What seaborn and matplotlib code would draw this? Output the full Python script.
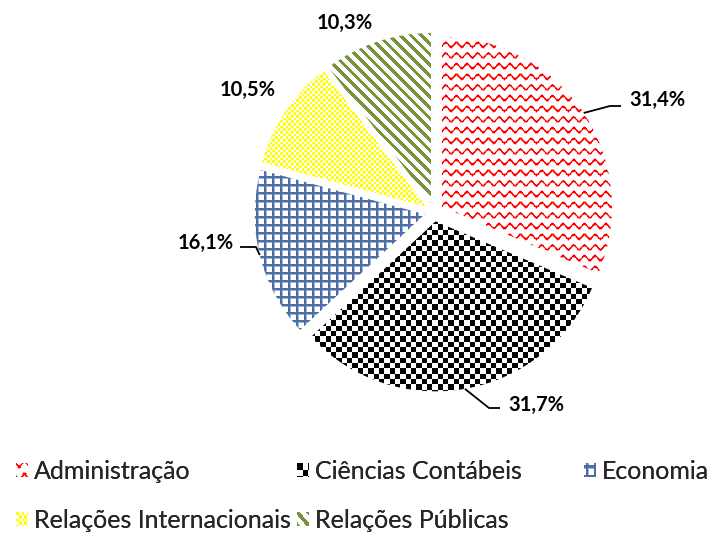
import numpy as np
import matplotlib
matplotlib.use("Agg")
import matplotlib.pyplot as plt
import seaborn as sns
from matplotlib.legend_handler import HandlerBase
from matplotlib.image import BboxImage
from matplotlib.transforms import Bbox, TransformedBbox
from matplotlib.patches import Patch

# ---- data ----
categories = ["Administração", "Ciências Contábeis", "Economia",
              "Relações Internacionais", "Relações Públicas"]
shares = [31.4, 31.7, 16.1, 10.5, 10.3]
value_labels = ["31,4%", "31,7%", "16,1%", "10,5%", "10,3%"]

sns.set_theme(style="white")
plt.rcParams["font.family"] = ["Lato", "DejaVu Sans"]

W, H = 713, 533
fig = plt.figure(figsize=(W / 100, H / 100), dpi=100)
fig.patch.set_facecolor("white")
ax = fig.add_axes([0, 0, 1, 1])

CX, CY, R, EXP = 434, H - 212, 170, 9.5
wedges, _ = ax.pie(shares, startangle=90, counterclock=False, radius=R,
                   center=(CX, CY), explode=[EXP] * len(shares), frame=True,
                   wedgeprops=dict(facecolor="none", linewidth=0))
ax.set_xlim(0, W)
ax.set_ylim(0, H)
ax.set_aspect("equal")
ax.set_autoscale_on(False)
ax.axis("off")

# ---- pattern fills (pixel grids) ----
P = 32 / 3.0
BLUE = np.array([75, 110, 165]) / 255
LBLUE = np.array([160, 182, 215]) / 255


def pattern(kind, h, w, oi=0.0, oj=0.0):
    ii, jj = np.mgrid[0:h, 0:w].astype(float)
    ii = ii + oi
    jj = jj + oj
    arr = np.ones((h, w, 3))
    if kind == "wave":
        off = 2.2 * np.sin(2 * np.pi * jj / P)
        d = (ii - off) % P
        arr[(d < 3.2)] = (1.0, 0.6, 0.6)
        arr[(d >= 0.7) & (d < 2.5)] = (1.0, 0.0, 0.0)
    elif kind == "checker":
        s = P / 2
        m = ((np.floor(jj / s) + np.floor(ii / s)) % 2) == 0
        arr[m] = (0, 0, 0)
    elif kind == "grid":
        g = 8.0
        light = ((jj % g) < 2.5) | ((ii % g) < 2.5)
        dark = ((jj % g) < 1.5) | ((ii % g) < 1.5)
        arr[light] = LBLUE
        arr[dark] = BLUE
    elif kind == "smallcheck":
        s = P / 4
        m = ((np.floor(jj / s) + np.floor(ii / s)) % 2) == 0
        arr[m] = (1.0, 1.0, 0.0)
    elif kind == "stripes":
        m = ((jj - ii) % P) < 4.5
        arr[m] = np.array([119, 147, 60]) / 255
    return arr


kinds = ["wave", "checker", "grid", "smallcheck", "stripes"]
for wdg, kind in zip(wedges, kinds):
    im = ax.imshow(pattern(kind, H, W), extent=(0, W, 0, H), origin="upper",
                   interpolation="nearest", zorder=0)
    im.set_clip_path(wdg)
ax.set_xlim(0, W)
ax.set_ylim(0, H)


# ---- value labels with leader lines ----
def img(x, y):
    return x, H - y


def arc_mid(w):
    t = np.deg2rad((w.theta1 + w.theta2) / 2)
    return w.center[0] + w.r * np.cos(t), w.center[1] + w.r * np.sin(t)


label_pos = [(657, 100), (536, 405), (206, 243), (248, 90), (345, 23)]
leader_path = {0: [(610, 106), (621, 106)],
               1: [(489, 408), (500, 408)],
               2: [(256, 247), (240, 247)]}
for k, (lab, pos) in enumerate(zip(value_labels, label_pos)):
    ax.text(*img(*pos), lab, ha="center", va="center", fontsize=14.5,
            fontweight="bold", color="black")
    if k in leader_path:
        sx, sy = arc_mid(wedges[k])
        pts = [(sx, sy)] + [img(*p) for p in leader_path[k]]
        ax.plot([p[0] for p in pts], [p[1] for p in pts], color="black",
                lw=1.3, zorder=3, solid_capstyle="butt")


# ---- legend with pattern swatches ----
class PatternHandler(HandlerBase):
    def __init__(self, arr):
        super().__init__()
        self.arr = arr

    def create_artists(self, legend, orig_handle, xdescent, ydescent,
                       width, height, fontsize, trans):
        bb = Bbox.from_bounds(-xdescent, -ydescent, width, height)
        im = BboxImage(TransformedBbox(bb, trans), interpolation="nearest",
                       origin="upper")
        im.set_data(self.arr)
        return [im]


handles = [Patch(label=c) for c in categories]
swatch_offsets = [(1, 0), (0, 0), (6, 6), (0, 0), (0, 2)]
hmap = {h: PatternHandler(pattern(k, 12, 12, *o))
        for h, k, o in zip(handles, kinds, swatch_offsets)}

groups = [([0, 3], 16), ([1, 4], 297), ([2], 584)]
for idx, x0 in groups:
    leg = fig.legend([handles[i] for i in idx], [categories[i] for i in idx],
                     loc="upper left", bbox_to_anchor=(x0 / W, 1 - 460 / H),
                     frameon=False, fontsize=18, handlelength=0.48,
                     handleheight=0.48, handletextpad=0.25, labelspacing=1.05,
                     borderpad=0, borderaxespad=0, handler_map=hmap)
    fig.add_artist(leg)

fig.savefig("out.png", dpi=100, facecolor="white")
